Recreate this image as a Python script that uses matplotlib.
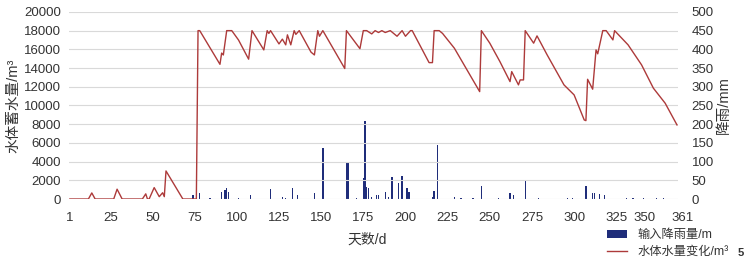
"""
water storage in the pond vs daily rainfall over one year
"""
import matplotlib
matplotlib.use("Agg")
import matplotlib.pyplot as plt
from matplotlib.transforms import ScaledTranslation

plt.rcParams['font.family'] = ['Liberation Sans', 'Noto Sans CJK SC', 'DejaVu Sans']

# water volume line, vertices (day, m3)
line_days = [1, 12, 14, 16, 27, 29, 32, 44, 46, 47, 48, 51, 54, 56, 57, 58, 68, 76,
             77, 78, 90, 91, 92, 94, 97, 101, 107, 109, 116, 118, 119, 120, 125, 127,
             129, 130, 132, 134, 135, 137, 144, 146, 148, 149, 151, 164, 165, 173, 175,
             177, 180, 182, 184, 186, 188, 191, 195, 198, 200, 203, 204, 214, 216, 217,
             220, 222, 229, 244, 245, 250, 256, 262, 263, 267, 268, 270, 271, 276, 278,
             284, 294, 300, 306, 307, 308, 311, 313, 314, 317, 319, 323, 324, 332, 340,
             347, 354, 361]
line_vals = [0, 0, 650, 0, 0, 1050, 0, 0, 550, 0, 0, 1220, 250, 670, 250, 3000, 0, 0,
             18000, 18000, 14400, 15600, 15400, 18000, 18000, 17000, 14950, 18000, 15940,
             18000, 17700, 18000, 16580, 17090, 16480, 17550, 16480, 18000, 17600, 18000,
             15700, 15400, 18000, 17400, 18000, 13950, 18000, 16070, 18000, 18000, 17650,
             18000, 17800, 18000, 17800, 18000, 17400, 18000, 17400, 18000, 18000, 14580,
             14580, 18000, 18000, 17700, 16120, 11480, 18000, 16660, 14690, 12550, 13620,
             12200, 12730, 12730, 18000, 16660, 17440, 15410, 12200, 11130, 8450, 8380,
             12800, 11740, 15940, 15520, 18000, 18000, 17010, 18000, 16480, 14340, 11850,
             10240, 7920]

# rainfall bars (day, mm)
rain_days = [74, 76, 78, 84, 91, 93, 94, 95, 101, 108, 120, 127, 129, 133, 136, 146,
             151, 165, 166, 171, 175, 176, 177, 178, 180, 183, 184, 188, 190, 192, 196,
             198, 201, 202, 216, 217, 219, 229, 233, 240, 245, 255, 262, 264, 271, 279,
             296, 299, 307, 311, 312, 315, 318, 331, 335, 341, 349, 353]
rain_vals = [12, 68, 15, 3, 18, 25, 30, 20, 4, 11, 26, 5, 4, 30, 10, 15,
             137, 100, 98, 3, 55, 208, 33, 30, 5, 11, 11, 18, 5, 60, 42,
             62, 29, 18, 6, 21, 144, 5, 4, 3, 34, 4, 15, 10, 48, 3,
             3, 4, 34, 15, 15, 14, 11, 4, 3, 4, 3, 4]

x_ticks = [1, 25, 50, 75, 100, 125, 150, 175, 200, 225, 250, 275, 300, 325, 350, 361]

fig = plt.figure(figsize=(7.47, 2.65), dpi=100)
ax = fig.add_axes([0.0924, 0.249, 0.815, 0.706])
ax2 = ax.twinx()

bars = ax2.bar(rain_days, rain_vals, width=0.8, color='#1f2d7a', label='输入降雨量/m')
line, = ax.plot(line_days, line_vals, color='#ad3a3a', lw=1.0, label='水体水量变化/m³')

ax.set_zorder(ax2.get_zorder() + 1)
ax.patch.set_visible(False)

ax.set_xlim(0.5, 361.5)
ax.set_ylim(0, 20000)
ax2.set_ylim(0, 500)
ax.set_yticks(range(0, 20001, 2000))
ax2.set_yticks(range(0, 501, 50))
ax.set_xticks(x_ticks)

ax.grid(axis='y', color='#d9d9d9', lw=0.8)
for a in (ax, ax2):
    for s in a.spines.values():
        s.set_visible(False)
ax.tick_params(axis='both', length=0, labelsize=9.5, colors='#333333')
ax.tick_params(axis='x', pad=9)
ax.tick_params(axis='y', pad=6)
ax2.tick_params(axis='y', length=0, labelsize=9.5, colors='#333333', pad=10)

# the last two day labels sit close together, nudge them apart
xlabels = ax.get_xticklabels()
xlabels[-2].set_transform(xlabels[-2].get_transform()
                          + ScaledTranslation(-10 / 72, 0, fig.dpi_scale_trans))
xlabels[-1].set_transform(xlabels[-1].get_transform()
                          + ScaledTranslation(4 / 72, 0, fig.dpi_scale_trans))

ax.set_ylabel('水体蓄水量/m³', fontsize=10.5, color='#333333', labelpad=2)
ax2.set_ylabel('降雨/mm', fontsize=10.5, color='#333333', labelpad=2)
ax.set_xlabel('天数/d', fontsize=10, color='#333333')
ax.xaxis.set_label_coords(0.49, -0.18)

fig.legend(handles=[bars, line], loc='upper left', bbox_to_anchor=(0.812, 0.135),
           frameon=False, fontsize=8.8, handlelength=1.7, handletextpad=0.8,
           labelspacing=0.4, borderpad=0, borderaxespad=0, labelcolor='#333333')
fig.text(0.991, 0.045, '5', fontsize=8, fontweight='bold', ha='center', va='center',
         color='#333333')

fig.savefig('out.png', dpi=100)
